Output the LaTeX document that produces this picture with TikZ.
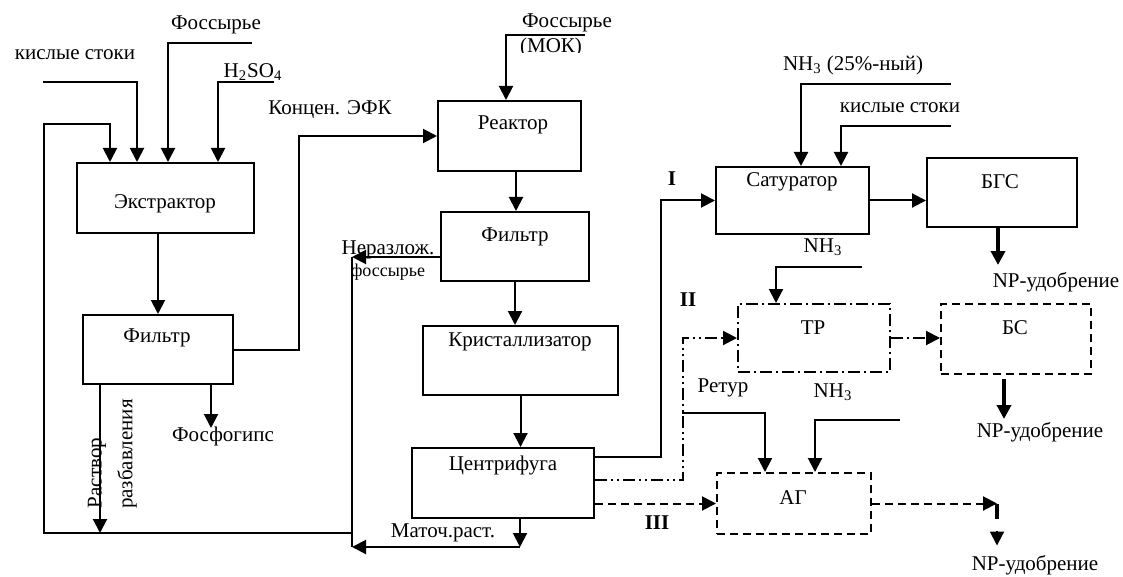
\documentclass[tikz,border=0pt]{standalone}
\usepackage{fontspec}
\setmainfont{Liberation Serif}
\usepackage{tikz}
\usetikzlibrary{arrows.meta,calc,positioning}
\tikzset{
  blok/.style={draw,line width=1pt,rectangle,inner sep=0pt},
  ln/.style={line width=1pt},
  arr/.style={line width=1pt,-{Triangle[length=7pt,width=7pt]}},
  thk/.style={line width=2pt,-{Triangle[length=7pt,width=7pt]}},
  dsh/.style={dash pattern=on 4pt off 2.5pt},
  dd/.style={dash pattern=on 6pt off 2pt on 1pt off 2pt},
  ddd/.style={dash pattern=on 6pt off 2pt on 1pt off 2pt on 1pt off 2pt},
  small/.style={font=\fontsize{9}{10}\selectfont},
  bold/.style={font=\fontsize{10.5}{12}\selectfont\bfseries}
}

\begin{document}
\begin{tikzpicture}[x=0.5pt,y=-0.5pt,font=\fontsize{10.5}{12}\selectfont]
\useasboundingbox (0,0) rectangle (1123,577);
% boxes
\node[blok,minimum width=88.5pt,minimum height=35pt] (extr) at (165.5,198) {};
\node[blok,minimum width=75pt,minimum height=34.5pt] (filt1) at (158,349.5) {};
\node[blok,minimum width=71.5pt,minimum height=35pt] (reak) at (509.5,136) {};
\node[blok,minimum width=74pt,minimum height=34.5pt] (filt2) at (515,246.5) {};
\node[blok,minimum width=97.5pt,minimum height=34.5pt] (kris) at (520.5,360.5) {};
\node[blok,minimum width=91pt,minimum height=35pt] (cent) at (503,483) {};
\node[blok,minimum width=76.5pt,minimum height=33.5pt] (sat) at (792.5,200.5) {};
\node[blok,minimum width=75pt,minimum height=34.5pt] (bgs) at (1002,192.5) {};
\node[blok,dd,minimum width=76pt,minimum height=34pt] (tr) at (814,338) {};
\node[blok,dsh,minimum width=75pt,minimum height=35pt] (bs) at (1016,339) {};
\node[blok,dsh,minimum width=77pt,minimum height=30.5pt] (ag) at (794,503.5) {};
\node (extrT) at (165,204) {Экстрактор};
\node (filt1T) at (157,338) {Фильтр};
\node (reakT) at (513,125) {Реактор};
\node (filt2T) at (515,237) {Фильтр};
\node (krisT) at (520,342) {Кристаллизатор};
\node (centT) at (503,465) {Центрифуга};
\node (satT) at (792,182) {Сатуратор};
\node (bgsT) at (1000,182) {БГС};
\node (trT) at (813,328) {ТР};
\node (bsT) at (1015,328) {БС};
\node (agT) at (793,498) {АГ};

% labels
\node (ksL) at (75,55) {кислые стоки};
\node (fosL) at (216,25) {Фоссырье};
\node (h2L) at (253,72) {H\textsubscript{2}SO\textsubscript{4}};
\node (efkL) at (330,110) {Концен. ЭФК};
\node (fgL) at (223,436) {Фосфогипс};
\node[rotate=90] (rsL) at (97,473) {Раствор};
\node[rotate=90] (rzL) at (127,454) {разбавления};
\node (fmL) at (567,23) {Фоссырье};
\begin{scope}
\clip (500,30) rectangle (600,53);
\node (mokL) at (551,47) {(МОК)};
\end{scope}
\node (nrzL) at (388,250) {Неразлож.};
\node[small] (fsL) at (388,272) {фоссырье};
\node (mtL) at (443,533) {Маточ.раст.};
\node (nh1L) at (853,65) {NH\textsubscript{3} (25\%-ный)};
\node (ks2L) at (900,108) {кислые стоки};
\node (np1L) at (1056,282) {NP-удобрение};
\node (nh2L) at (823,247) {NH\textsubscript{3}};
\node (np2L) at (1040,432) {NP-удобрение};
\node (rtL) at (723,388) {Ретур};
\node (nh3L) at (833,392) {NH\textsubscript{3}};
\node (np3L) at (1035,565) {NP-удобрение};
\node[bold] (n1) at (672,179) {I};
\node[bold] (n2) at (688,300) {II};
\node[bold] (n3) at (657,523) {III};

% extractor feeds
\coordinate (ksA) at (43,82);
\coordinate (fosA) at (252,43);
\coordinate (h2A) at (274,82);
\coordinate (retJ) at (352,533);
\coordinate (retL) at (44,533);
\coordinate (retT) at (44,124);
\draw[arr] (retJ) -- (retL) -- (retT) -| ($(extr.north west)+(34,0)$);
\draw[arr] (ksA) -| ($(extr.north west)+(61,0)$);
\draw[arr] (fosA) -| ($(extr.north west)+(92,0)$);
\draw[arr] (h2A) -| ($(extr.north west)+(142,0)$);
\draw[arr] (extr.south -| filt1.north) -- (filt1.north);
\draw[arr] (filt1.east) -- ++(65,0) |- (reak.west);
\coordinate (rsA) at ($(filt1.south west)+(18,0)$);
\draw[arr] (rsA) -- (rsA |- retL);
\coordinate (fgA) at ($(filt1.south west)+(129,0)$);
\draw[arr] (fgA) -- ++(0,43);

% middle column
\coordinate (fmA) at (585,35);
\draw[arr] (fmA) -| ($(reak.north west)+(69,0)$);
\coordinate (r2f) at ($(filt2.north west)+(76,0)$);
\draw[arr] (r2f |- reak.south) -- (r2f);
\draw[arr] (filt2.south) -- (filt2.south |- kris.north);
\draw[arr] (kris.south) -- (kris.south |- cent.north);
\coordinate (nrzJ) at (352,257);
\coordinate (mtJ) at (352,547);
\coordinate (mtA) at (520,547);
\draw[arr] (filt2.west |- nrzJ) -- (nrzJ);
\draw[ln] (nrzJ) -- (mtJ);
\draw[arr] (cent.south -| mtA) -- (mtA);
\draw[arr] (mtA) -- (mtJ);

% routes I, II, III
\draw[arr] ([yshift=13pt]cent.east) -- ++(66,0) |- (sat.west);
\draw[arr,ddd] ([yshift=1.5pt]cent.east) -- ++(88,0) |- (tr.west);
\draw[arr,dsh] (cent.east |- ag.west) -- (ag.west);
\coordinate (nh1A) at (951,84);
\coordinate (ks2A) at (951,126);
\draw[arr] (nh1A) -| ($(sat.north west)+(86,0)$);
\draw[arr] (ks2A) -| ($(sat.north west)+(126,0)$);
\draw[arr] (sat.east) -- (sat.east -| bgs.west);
\draw[thk] ($(bgs.south)+(-4,0)$) -- ++(0,37);
\coordinate (nh2A) at (862,267);
\draw[arr] (nh2A) -| ($(tr.north west)+(39,0)$);
\draw[arr,dd] (tr.east) -- (tr.east -| bs.west);
\draw[thk] ($(bs.south)+(-12,4)$) -- ++(0,40);
\coordinate (rtA) at (682,413);
\draw[arr] (rtA) -| ($(ag.north west)+(49,0)$);
\coordinate (nh3A) at (900,420);
\draw[arr] (nh3A) -| ($(ag.north west)+(99,0)$);
\coordinate (agX) at (997,0);
\coordinate (agO) at (ag.east -| agX);
\draw[arr,dsh] (ag.east) -- (agO);
\draw[line width=2pt] (agO) -- ++(0,15);
\draw[arr] ($(agO)+(0,27)$) -- ++(0,15);
\end{tikzpicture}
\end{document}
